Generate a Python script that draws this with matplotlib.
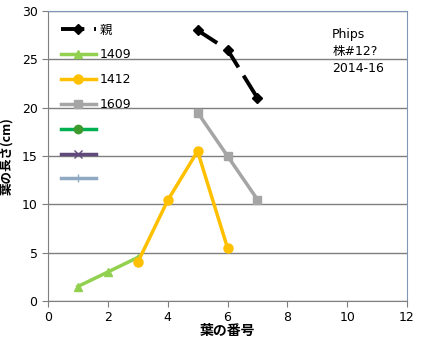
import matplotlib
matplotlib.use('Agg')
from matplotlib import pyplot as plt

plt.rcParams['font.family'] = ['DejaVu Sans', 'Noto Sans CJK JP']

# data
oya_x = [5, 6, 7]
oya_y = [28, 26, 21]
s1409_x = [1, 2, 3]
s1409_y = [1.5, 3, 4.5]
s1412_x = [3, 4, 5, 6]
s1412_y = [4, 10.4, 15.5, 5.5]
s1609_x = [5, 6, 7]
s1609_y = [19.5, 15, 10.5]
labels = ['親', '1409', '1412', '1609', ' ', ' ', ' ']

fig = plt.figure(figsize=(4.24, 3.44), dpi=100)
ax = fig.add_axes([48/424, 1-301/344, (407-48)/424, (301-11)/344])

ax.plot(oya_x, oya_y, color='black', lw=2.8, dashes=(6, 2.5), marker='D', ms=5, label=labels[0])
ax.plot(s1409_x, s1409_y, color='#92D050', lw=2.5, marker='^', ms=6, label=labels[1])
ax.plot(s1412_x, s1412_y, color='#FFC000', lw=2.5, marker='o', ms=6.5, label=labels[2])
ax.plot(s1609_x, s1609_y, color='#A5A5A5', lw=2.5, marker='s', ms=6, label=labels[3])
# empty series, only shown in the legend
ax.plot([], [], color='#00B050', lw=2.5, marker='o', ms=6, mfc='#3C9A2E', mec='#3C9A2E', label=labels[4])
ax.plot([], [], color='#604A7B', lw=2.5, marker='x', ms=6, label=labels[5])
ax.plot([], [], color='#8EA9C1', lw=2.5, marker='+', ms=6, label=labels[6])

ax.set_xlim(0, 12)
ax.set_ylim(0, 30)
ax.set_xticks(range(0, 13, 2))
ax.set_yticks(range(0, 31, 5))
ax.yaxis.grid(True, color='#7F7F7F', lw=1)
ax.set_axisbelow(True)
for s in ['top', 'right']:
    ax.spines[s].set_color('#8096B4')
for s in ['left', 'bottom']:
    ax.spines[s].set_color('#7F7F7F')
ax.tick_params(labelsize=9, color='#7F7F7F', length=4)

ax.set_xlabel('葉の番号', fontsize=10, fontweight='bold', family=['Noto Sans CJK JP'], labelpad=0)
ax.set_ylabel('葉の長さ(cm)', fontsize=9, fontweight='bold', family=['Noto Sans CJK JP', 'DejaVu Sans'], labelpad=6)

leg = ax.legend(loc='upper left', frameon=False, handlelength=2.8, handletextpad=0.3,
                labelspacing=0.95, borderaxespad=0.4, borderpad=0.6,
                prop={'family': ['DejaVu Sans', 'Noto Sans CJK JP'], 'size': 9})

ax.text(9.5, 28.2, 'Phips\n株#12?\n2014-16', fontsize=9, va='top', linespacing=1.4,
        family=['DejaVu Sans', 'Noto Sans CJK JP'])

plt.savefig('out.png', dpi=100)
